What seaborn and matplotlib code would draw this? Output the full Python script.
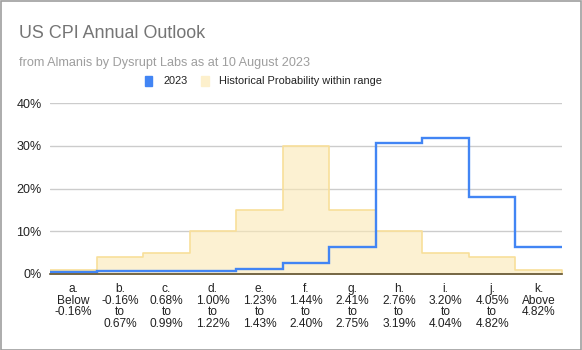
import numpy as np
import pandas as pd
import matplotlib
matplotlib.use("Agg")
import matplotlib.pyplot as plt
import seaborn as sns
from matplotlib.patches import Rectangle
from matplotlib.ticker import FuncFormatter

categories = ["a.\nBelow\n-0.16%", "b.\n-0.16%\nto\n0.67%", "c.\n0.68%\nto\n0.99%",
              "d.\n1.00%\nto\n1.22%", "e.\n1.23%\nto\n1.43%", "f.\n1.44%\nto\n2.40%",
              "g.\n2.41%\nto\n2.75%", "h.\n2.76%\nto\n3.19%", "i.\n3.20%\nto\n4.04%",
              "j.\n4.05%\nto\n4.82%", "k.\nAbove\n4.82%"]
outlook_2023 = [0.004, 0.006, 0.007, 0.008, 0.011, 0.026, 0.064, 0.306, 0.319, 0.179, 0.064]
historical = [0.01, 0.04, 0.05, 0.10, 0.15, 0.30, 0.15, 0.10, 0.05, 0.04, 0.01]
y_ticks = [0, 0.1, 0.2, 0.3, 0.4]

sns.set_theme(style="white")
plt.rcParams['font.family'] = ['Liberation Sans', 'DejaVu Sans']

n = len(categories)
df = pd.DataFrame({"pos": np.arange(n), "hist": historical, "y23": outlook_2023})
edges = np.arange(n + 1) - 0.5

fig = plt.figure(figsize=(5.82, 3.5), dpi=100)
ax = fig.add_axes([50/582, 1-274/350, 512/582, 171/350])

sns.histplot(data=df, x="pos", weights="hist", bins=n, binrange=(edges[0], edges[-1]),
             element="step", fill=True, color="#fbe9b4", alpha=0.6, edgecolor="#f8df9a",
             linewidth=1.2, ax=ax, zorder=2)
ax.stairs(df["y23"], edges, color="#4285f4", linewidth=1.7, zorder=4, baseline=None)

ax.set_xlim(edges[0], edges[-1])
ax.set_ylim(0, 0.4)
ax.set_yticks(y_ticks)
ax.yaxis.set_major_formatter(FuncFormatter(lambda v, p: f"{v*100:.0f}%"))
ax.set_xticks(df["pos"])
ax.set_xticklabels(categories, linespacing=0.95)
ax.tick_params(axis="y", length=0, labelsize=9, colors="#222222", pad=6)
ax.tick_params(axis="x", length=0, labelsize=8.6, colors="#222222", pad=6.5)
ax.grid(axis="y", color="#cccccc", linewidth=1, zorder=0)
ax.set_axisbelow(True)
for s in ["top", "right", "left"]:
    ax.spines[s].set_visible(False)
ax.spines["bottom"].set_color("#5f5235")
ax.spines["bottom"].set_linewidth(1.2)
ax.spines["bottom"].set_zorder(5)
ax.set_xlabel("")
ax.set_ylabel("")

fig.text(19/582, 1-33/350, "US CPI Annual Outlook", fontsize=12.9, color="#757575", va="center")
fig.text(19/582, 1-63/350, "from Almanis by Dysrupt Labs as at 10 August 2023", fontsize=9.1,
         color="#9e9e9e", va="center")

# legend
fig.patches.append(Rectangle((145/582, 1-86/350), 7/582, 10/350, transform=fig.transFigure,
                             color="#4285f4", figure=fig))
fig.text(163/582, 1-81/350, "2023", fontsize=7.9, color="#222222", va="center")
fig.patches.append(Rectangle((201/582, 1-86/350), 8/582, 10/350, transform=fig.transFigure,
                             color="#fdf0cc", figure=fig))
fig.text(219/582, 1-81/350, "Historical Probability within range", fontsize=7.9,
         color="#222222", va="center")

fig.patches.append(Rectangle((0.5/582, 0.5/350), 580/582, 348.5/350, transform=fig.transFigure,
                             fill=False, edgecolor="#9e9e9e", linewidth=1.2, figure=fig))

fig.savefig("out.png", dpi=100)
